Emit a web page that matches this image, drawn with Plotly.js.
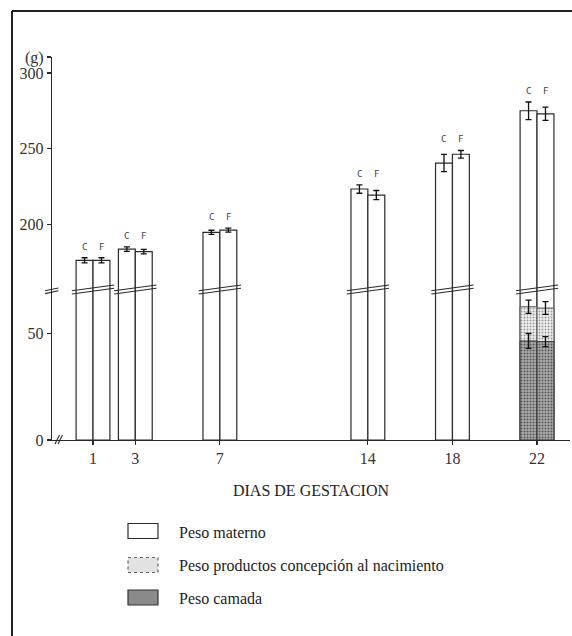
<!DOCTYPE html>
<html>
<head>
<meta charset="utf-8">
<script src="https://cdn.plot.ly/plotly-3.0.1.min.js"></script>
<style>html,body{margin:0;padding:0;background:#fff;}#chart{width:572px;height:636px;}</style>
</head>
<body>
<div id="chart"></div>
<script>
// ---- data ----
const days = [1, 3, 7, 14, 18, 22];
const dayLabels = ['1', '3', '7', '14', '18', '22'];
const maternoC = [176.0, 183.4, 194.5, 223.2, 240.4, 275.0];
const maternoCErr = [1.7, 1.5, 1.4, 2.8, 5.7, 5.8];
const maternoF = [176.0, 181.7, 196.0, 219.2, 246.2, 273.0];
const maternoFErr = [1.7, 1.5, 1.3, 3.0, 2.5, 4.4];
const litterDays = [22];
const productosC = [62.3];
const productosCErr = [3.1];
const productosF = [61.7];
const productosFErr = [3.0];
const camadaC = [46.3];
const camadaCErr = [3.5];
const camadaF = [46.0];
const camadaFErr = [2.3];
const groupLabels = ['C', 'F'];
const legendLabels = ['Peso materno', 'Peso productos concepción al nacimiento', 'Peso camada'];
const yLowTicks = [0, 50];
const yHighTicks = [200, 250, 300];
const yUnitLabel = '(g)';
const xTitle = 'DIAS DE GESTACION';

// ---- layout geometry ----
const W = 572, H = 636;
const L = 52, R = 2, T = 57, B = 196;
const plotW = W - L - R, plotH = H - T - B;
const breakPx = 289;
const lowTop = 70.6, highBottom = 157, highTop = 310.6;
const split = (H - B - breakPx) / plotH;
const px2x = p => (p - L) / plotW;
const px2y = p => (H - B - p) / plotH;

const serif = '"Liberation Serif", "DejaVu Serif", "Times New Roman", serif';
const ink = '#2a2a2a';
const barW = 0.8;

function bar(x, y, err, offset, yaxis, marker) {
  const t = {
    type: 'bar', x: x, y: y, width: barW, offset: offset, xaxis: 'x', yaxis: yaxis,
    marker: marker, showlegend: false, hoverinfo: 'x+y'
  };
  if (err) {
    t.error_y = {type: 'data', array: err, visible: true, color: '#111', thickness: 1.3, width: 3};
  }
  return t;
}
const whiteM = {color: '#ffffff', opacity: 1, line: {color: ink, width: 1.2}};
const lightM = {color: '#e6e6e6', opacity: 1, line: {color: '#555', width: 1},
  pattern: {shape: '.', bgcolor: '#f0f0f0', fgcolor: '#999999', size: 3, solidity: 0.3, fillmode: 'replace'}};
const darkM = {color: '#8e8e8e', opacity: 1, line: {color: '#333', width: 1},
  pattern: {shape: '.', bgcolor: '#ababab', fgcolor: '#555555', size: 3, solidity: 0.35, fillmode: 'replace'}};

const traces = [
  bar(days, maternoC, null, -barW, 'y', whiteM),
  bar(days, maternoF, null, 0, 'y', whiteM),
  bar(days, maternoC, maternoCErr, -barW, 'y2', whiteM),
  bar(days, maternoF, maternoFErr, 0, 'y2', whiteM),
  bar(litterDays, productosC, productosCErr, -barW, 'y', lightM),
  bar(litterDays, productosF, productosFErr, 0, 'y', lightM),
  bar(litterDays, camadaC, camadaCErr, -barW, 'y', darkM),
  bar(litterDays, camadaF, camadaFErr, 0, 'y', darkM)
];

const shapes = [];
const annotations = [];
// break marks across each pair of bars
days.forEach(d => {
  [[290.7, 285.0], [294.0, 288.3]].forEach(([a, b]) => {
    shapes.push({type: 'line', xref: 'x', yref: 'paper', x0: d - 1.0, x1: d + 1.0,
      y0: px2y(a), y1: px2y(b), line: {color: ink, width: 1.1}});
  });
});
// break marks on the y axis
[[290.8, 288.0], [293.6, 290.8]].forEach(([a, b]) => {
  shapes.push({type: 'line', xref: 'paper', yref: 'paper', x0: px2x(45), x1: px2x(58.5),
    y0: px2y(a), y1: px2y(b), line: {color: ink, width: 1.1}});
});
// origin slashes
[[55, 58.5], [58, 61.5]].forEach(([a, b]) => {
  shapes.push({type: 'line', xref: 'paper', yref: 'paper', x0: px2x(a), x1: px2x(b + 1),
    y0: px2y(444), y1: px2y(435), line: {color: ink, width: 1.1}});
});
// frame
shapes.push({type: 'line', xref: 'paper', yref: 'paper', x0: px2x(12), x1: px2x(573),
  y0: px2y(11), y1: px2y(11), line: {color: '#222', width: 2}});
shapes.push({type: 'line', xref: 'paper', yref: 'paper', x0: px2x(12), x1: px2x(12),
  y0: px2y(11), y1: px2y(637), line: {color: '#222', width: 2}});

// C / F labels
days.forEach((d, i) => {
  const top = Math.max(maternoC[i] + maternoCErr[i], maternoF[i] + maternoFErr[i]);
  [-barW / 2, barW / 2].forEach((o, k) => {
    annotations.push({xref: 'x', yref: 'y2', x: d + o, y: top, text: groupLabels[k],
      showarrow: false, yanchor: 'middle', yshift: 11,
      font: {family: 'DejaVu Sans Mono, DejaVu Sans', size: 9, color: '#444'}});
  });
});

// legend (drawn)
const boxes = [[523.5, 538.5], [557.5, 572.5], [590, 605]];
const boxFills = ['#ffffff', '#e2e2e2', '#8a8a8a'];
const boxLines = [ink, '#666', '#333'];
const boxDash = ['solid', 'dot', 'solid'];
const textY = [532, 566, 598.5];
legendLabels.forEach((lab, i) => {
  shapes.push({type: 'rect', xref: 'paper', yref: 'paper', x0: px2x(128), x1: px2x(158),
    y0: px2y(boxes[i][1]), y1: px2y(boxes[i][0]), fillcolor: boxFills[i],
    line: {color: boxLines[i], width: 1.2, dash: boxDash[i]}});
  annotations.push({xref: 'paper', yref: 'paper', x: px2x(177), y: px2y(textY[i]), text: lab,
    showarrow: false, xanchor: 'left', yanchor: 'middle',
    font: {family: serif, size: 16, color: '#222'}});
});

const axisCommon = {
  showline: true, linecolor: ink, linewidth: 1.2, showgrid: false, zeroline: false,
  ticks: 'outside', ticklen: 4, tickwidth: 1.1, tickcolor: ink,
  tickfont: {family: serif, size: 16, color: '#333'}, fixedrange: true
};

const layout = {
  width: W, height: H,
  margin: {l: L, r: R, t: T, b: B, pad: 0},
  paper_bgcolor: '#ffffff', plot_bgcolor: 'rgba(0,0,0,0)',
  barmode: 'overlay', showlegend: false,
  font: {family: serif},
  xaxis: Object.assign({}, axisCommon, {
    range: [-0.94, 23.56], tickvals: days, ticktext: dayLabels, anchor: 'y',
    title: {text: xTitle, font: {family: serif, size: 16, color: '#222'}, standoff: 18}
  }),
  yaxis: Object.assign({}, axisCommon, {
    domain: [0, split], range: [0, lowTop], tickvals: yLowTicks, anchor: 'x'
  }),
  yaxis2: Object.assign({}, axisCommon, {
    domain: [split, 1], range: [highBottom, highTop], anchor: 'x',
    tickvals: yHighTicks.concat([highTop]), ticktext: yHighTicks.map(String).concat([yUnitLabel])
  }),
  shapes: shapes,
  annotations: annotations
};

Plotly.newPlot('chart', traces, layout, {displayModeBar: false, staticPlot: true});
</script>
</body>
</html>
